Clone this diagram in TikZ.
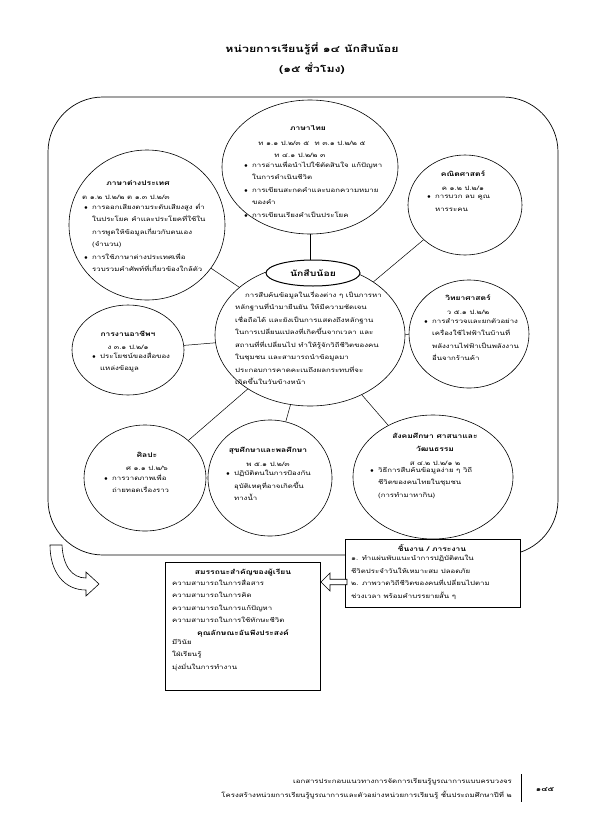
\documentclass[tikz,border=0pt]{standalone}
\usepackage{fontspec}
\newfontfamily\thai[Script=Thai, FakeStretch=1.3]{Loma}
\usetikzlibrary{shapes.geometric, shapes.arrows, positioning}

\newcommand{\bul}{\makebox[8pt][l]{$\bullet$}}
\newcommand{\ind}{\hspace*{8pt}}

\begin{document}
\begin{tikzpicture}[x=1pt, y=-1pt,
    subject/.style={ellipse, draw=black, line width=0.6pt, inner sep=0pt},
    head/.style={font=\thai\fontsize{6.5}{9}\selectfont\bfseries, inner sep=0pt},
    code/.style={font=\thai\fontsize{6}{9}\selectfont, inner sep=0pt},
    body/.style={font=\thai\fontsize{6}{12.5}\selectfont, align=left, anchor=north west, inner sep=0pt},
    box/.style={rectangle, draw=black, line width=0.6pt, inner sep=0pt},
    link/.style={draw=black, line width=0.5pt},
]

\path[use as bounding box] (0,0) rectangle (595,836);

% ---- Title ----
\node[font=\thai\fontsize{9.5}{11}\selectfont\bfseries] (title) at (312,49) {หน่วยการเรียนรู้ที่ ๑๔ นักสืบน้อย};
\node[font=\thai\fontsize{9.5}{11}\selectfont\bfseries] (hours) at (312,69) {(๑๕ ชั่วโมง)};

% ---- Frame ----
\draw[line width=0.7pt, rounded corners=55pt] (48,97) rectangle (558,555);

% ---- Curved arrow (bottom left) ----
\draw[line width=0.6pt, fill=white] (62,545) .. controls (63,566) and (72,578) .. (86,578)
    -- (86,572) -- (99,584) -- (86,596) -- (86,590)
    .. controls (64,590) and (50,572) .. (50,545) -- cycle;

% ---- Circles ----
\node[subject, minimum width=176pt, minimum height=134pt] (c-thai) at (310,167) {};
\node[subject, minimum width=156pt, minimum height=150pt] (c-foreign) at (147,225) {};
\node[subject, minimum width=114pt, minimum height=100pt] (c-math) at (465,205) {};
\node[subject, minimum width=190pt, minimum height=142pt] (c-center) at (310,335) {};
\node[subject, minimum width=120pt, minimum height=108pt] (c-sci) at (469,334) {};
\node[subject, minimum width=112pt, minimum height=90pt] (c-career) at (128,350) {};
\node[subject, minimum width=122pt, minimum height=106pt] (c-art) at (145,478) {};
\node[subject, minimum width=124pt, minimum height=116pt] (c-health) at (270,478) {};
\node[subject, minimum width=160pt, minimum height=124pt] (c-social) at (433,477) {};

% ---- Links ----
\foreach \n in {thai, foreign, math, sci, career, art, health, social} {
    \draw[link] (c-center) -- (c-\n);
}

% ---- Centre ----
\node[ellipse, draw=black, line width=1pt, fill=white, minimum width=94pt, minimum height=26pt,
      font=\thai\fontsize{8}{10}\selectfont\bfseries] (topic) at (313,273) {นักสืบน้อย};
\node[body] (t-center) at (235,291) {\hspace*{10pt}การสืบค้นข้อมูลในเรื่องต่าง ๆ เป็นการหา\\
หลักฐานที่นำมายืนยัน ให้มีความชัดเจน\\
เชื่อถือได้ และยังเป็นการแสดงถึงหลักฐาน\\
ในการเปลี่ยนแปลงที่เกิดขึ้นจากเวลา และ\\
สถานที่ที่เปลี่ยนไป ทำให้รู้จักวิถีชีวิตของคน\\
ในชุมชน และสามารถนำข้อมูลมา\\
ประกอบการคาดคะเนถึงผลกระทบที่จะ\\
เกิดขึ้นในวันข้างหน้า};

% ---- Thai ----
\node[head] (h-thai) at (308,128) {ภาษาไทย};
\node[code] (k-thai) at (312,143) {ท ๑.๑ ป.๒/๓ ๕ \ ท ๓.๑ ป.๒/๒ ๕};
\node[code] (k-thai2) at (300,155) {ท ๔.๑ ป.๒/๒ ๓};
\node[body] (t-thai) at (244,161) {\bul การอ่านเพื่อนำไปใช้ตัดสินใจ แก้ปัญหา\\
\ind ในการดำเนินชีวิต\\
\bul การเขียนสะกดคำและบอกความหมาย\\
\ind ของคำ\\
\bul การเขียนเรียงคำเป็นประโยค};

% ---- Foreign languages ----
\node[head] (h-foreign) at (138,183) {ภาษาต่างประเทศ};
\node[code, anchor=west] (k-foreign) at (82,197) {ต ๑.๒ ป.๒/๒ ต ๑.๓ ป.๒/๓};
\node[body] (t-foreign) at (84,203) {\bul การออกเสียงตามระดับเสียงสูง ต่ำ\\
\ind ในประโยค คำและประโยคที่ใช้ใน\\
\ind การพูดให้ข้อมูลเกี่ยวกับตนเอง\\
\ind (จำนวน)\\
\bul การใช้ภาษาต่างประเทศเพื่อ\\
\ind รวบรวมคำศัพท์ที่เกี่ยวข้องใกล้ตัว};

% ---- Math ----
\node[head] (h-math) at (463,174) {คณิตศาสตร์};
\node[code] (k-math) at (463,188) {ค ๑.๒ ป.๒/๑};
\node[body] (t-math) at (427,195) {\bul การบวก ลบ คูณ\\
\ind หารระคน};

% ---- Science ----
\node[head] (h-sci) at (468,298) {วิทยาศาสตร์};
\node[code] (k-sci) at (468,312) {ว ๕.๑ ป.๒/๒};
\node[body] (t-sci) at (424,318) {\bul การสำรวจและยกตัวอย่าง\\
\ind เครื่องใช้ไฟฟ้าในบ้านที่\\
\ind พลังงานไฟฟ้าเป็นพลังงาน\\
\ind อื่นจากร้านค้า};

% ---- Career ----
\node[head] (h-career) at (128,334) {การงานอาชีพฯ};
\node[code] (k-career) at (128,347) {ง ๓.๑ ป.๒/๑};
\node[body] (t-career) at (92,352) {\bul ประโยชน์ของสื่อของ\\
\ind แหล่งข้อมูล};

% ---- Art ----
\node[head] (h-art) at (147,455) {ศิลปะ};
\node[code] (k-art) at (147,468) {ศ ๑.๑ ป.๒/๖};
\node[body] (t-art) at (104,474) {\bul การวาดภาพเพื่อ\\
\ind ถ่ายทอดเรื่องราว};

% ---- Health ----
\node[head] (h-health) at (268,451) {สุขศึกษาและพลศึกษา};
\node[code] (k-health) at (268,464) {พ ๕.๑ ป.๒/๓};
\node[body] (t-health) at (226,470) {\bul ปฏิบัติตนในการป้องกัน\\
\ind อุบัติเหตุที่อาจเกิดขึ้น\\
\ind ทางน้ำ};

% ---- Social ----
\node[head] (h-social) at (435,436) {สังคมศึกษา ศาสนาและ};
\node[head] (h-social2) at (435,449) {วัฒนธรรม};
\node[code] (k-social) at (435,463) {ส ๔.๒ ป.๒/๑ ๒};
\node[body] (t-social) at (370,467) {\bul วิธีการสืบค้นข้อมูลง่าย ๆ วิถี\\
\ind ชีวิตของคนไทยในชุมชน\\
\ind (การทำมาหากิน)};

% ---- Task box ----
\node[box, fill=white, minimum width=175pt, minimum height=68pt, anchor=north west] (tasks) at (345,539) {};
\node[head] (h-tasks) at (432,548) {ชิ้นงาน / ภาระงาน};
\node[body] (t-tasks) at (351,555) {๑. ทำแผ่นพับแนะนำการปฏิบัติตนใน\\
ชีวิตประจำวันให้เหมาะสม ปลอดภัย\\
๒. ภาพวาดวิถีชีวิตของคนที่เปลี่ยนไปตาม\\
ช่วงเวลา พร้อมคำบรรยายสั้น ๆ};

% ---- Competency box ----
\node[box, fill=white, minimum width=155pt, minimum height=128pt, anchor=north west] (skills) at (165,562) {};
\node[head] (h-skills) at (243,573) {สมรรถนะสำคัญของผู้เรียน};
\node[body] (t-skills) at (172,579) {ความสามารถในการสื่อสาร\\
ความสามารถในการคิด\\
ความสามารถในการแก้ปัญหา\\
ความสามารถในการใช้ทักษะชีวิต};
\node[head] (h-traits) at (243,633) {คุณลักษณะอันพึงประสงค์};
\node[body] (t-traits) at (172,639) {มีวินัย\\
ใฝ่เรียนรู้\\
มุ่งมั่นในการทำงาน};

% ---- Arrow between boxes ----
\node[single arrow, draw=black, fill=white, line width=0.6pt, shape border rotate=180,
      minimum height=26pt, minimum width=18pt, single arrow head extend=3pt, inner sep=1pt,
      anchor=tip] (toskills) at (skills.east |- 0,582) {};

% ---- Footer ----
\node[code, anchor=east] (foot1) at (512,782) {เอกสารประกอบแนวทางการจัดการเรียนรู้บูรณาการแบบครบวงจร};
\node[code, anchor=east] (foot2) at (512,795) {โครงสร้างหน่วยการเรียนรู้บูรณาการและตัวอย่างหน่วยการเรียนรู้ ชั้นประถมศึกษาปีที่ ๒};
\draw[line width=0.8pt] (521,774) -- (521,802);
\node[head] (page) at (545,790) {๑๔๕};

\end{tikzpicture}
\end{document}
